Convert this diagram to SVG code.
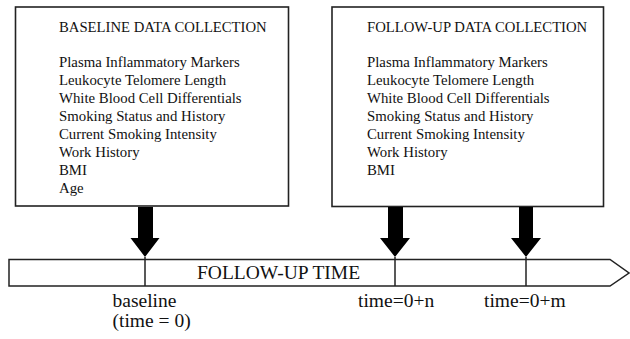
<svg xmlns="http://www.w3.org/2000/svg" width="630" height="339" viewBox="0 0 630 339" font-family="'Liberation Serif', 'Times New Roman', serif">
<style>
.box{fill:#fff;stroke:#222;stroke-width:1.6}
text{font-family:'Liberation Serif','Times New Roman',serif;fill:#111}
.title{font-size:14.7px}
.item{font-size:14.8px}
.big{font-size:19.5px}
.arr{fill:#000}
.ln{stroke:#222;stroke-width:1.5;fill:none}
</style>
<rect width="630" height="339" fill="#fff"/>
<g id="baseline-box">
<rect class="box" x="15.5" y="7" width="273" height="199"/>
<text class="title" x="59" y="32">BASELINE DATA COLLECTION</text>
<g class="item">
<text x="59" y="67">Plasma Inflammatory Markers</text>
<text x="59" y="85">Leukocyte Telomere Length</text>
<text x="59" y="103">White Blood Cell Differentials</text>
<text x="59" y="121">Smoking Status and History</text>
<text x="59" y="139">Current Smoking Intensity</text>
<text x="59" y="157">Work History</text>
<text x="59" y="175">BMI</text>
<text x="59" y="193">Age</text>
</g>
</g>
<g id="followup-box">
<rect class="box" x="332" y="7" width="271.5" height="199.5"/>
<text class="title" x="367" y="32">FOLLOW-UP DATA COLLECTION</text>
<g class="item">
<text x="367" y="67">Plasma Inflammatory Markers</text>
<text x="367" y="85">Leukocyte Telomere Length</text>
<text x="367" y="103">White Blood Cell Differentials</text>
<text x="367" y="121">Smoking Status and History</text>
<text x="367" y="139">Current Smoking Intensity</text>
<text x="367" y="157">Work History</text>
<text x="367" y="175">BMI</text>
</g>
</g>
<g id="timeline">
<path class="ln" d="M9,259.5 L610,259.5 L629,273 L610,286 L9,286 Z"/>
<text class="big" x="197" y="279">FOLLOW-UP TIME</text>
</g>
<g id="connectors">
<line class="ln" x1="145" y1="257" x2="145" y2="286"/>
<line class="ln" x1="395" y1="257" x2="395" y2="286"/>
<line class="ln" x1="526" y1="257" x2="526" y2="286"/>
<path class="arr" d="M138,207 L153,207 L153,238 L159.5,238 L145,257 L130.5,238 L138,238 Z"/>
<path class="arr" d="M388,207 L403,207 L403,238 L410,238 L395,257 L380,238 L388,238 Z"/>
<path class="arr" d="M519,207 L533,207 L533,238 L541,238 L526,257 L511,238 L519,238 Z"/>
</g>
<g id="labels" class="big">
<text x="112.5" y="307">baseline</text>
<text x="112.5" y="327">(time = 0)</text>
<text x="358" y="307">time=0+n</text>
<text x="484" y="307">time=0+m</text>
</g>
</svg>
